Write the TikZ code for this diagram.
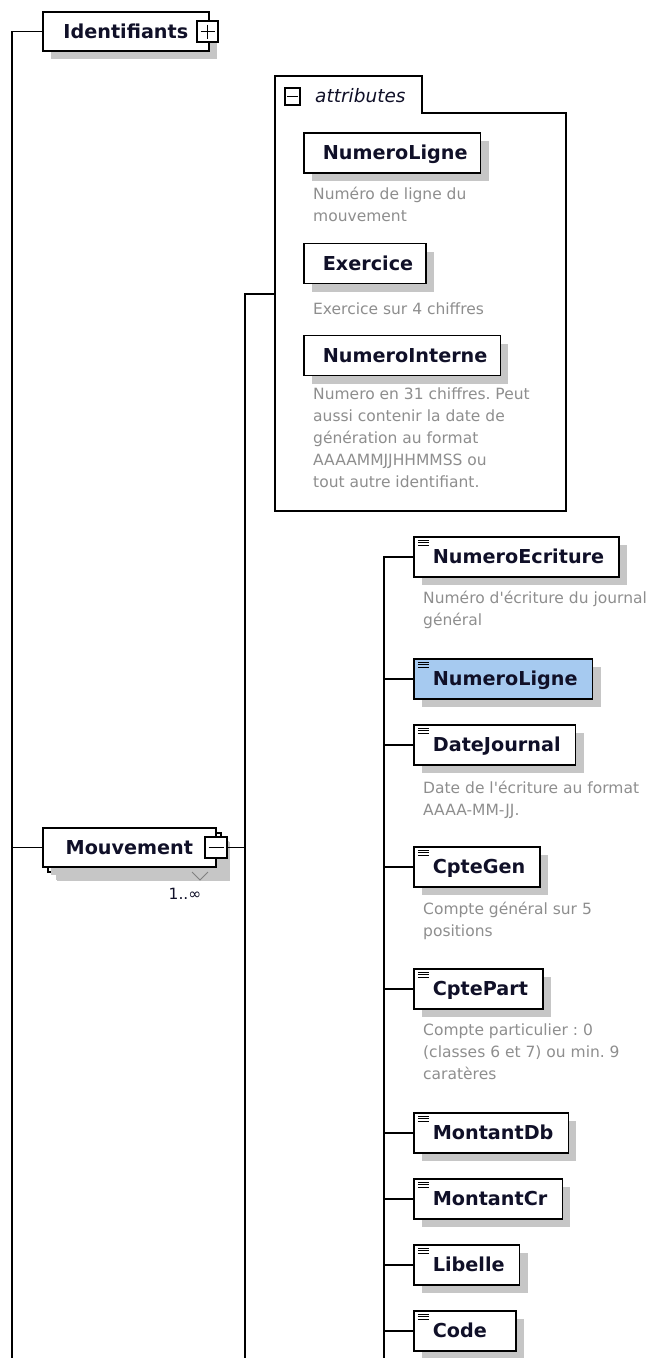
\documentclass[tikz,border=0pt]{standalone}
\usepackage{fontspec}
\setmainfont{DejaVu Sans}
\usetikzlibrary{positioning,shadows,calc}
\definecolor{lblue}{HTML}{A6CAF0}
\definecolor{descgray}{HTML}{8E8E8E}
\definecolor{shade}{HTML}{C6C6C6}
\definecolor{ink}{HTML}{101028}
\newcommand{\elname}[1]{\hspace*{19pt}#1\hspace*{15pt}}
\newcommand{\atname}[1]{\hspace*{19pt}#1\hspace*{13pt}}
\frenchspacing

\begin{document}
\begin{tikzpicture}[x = 1pt, y = -1pt,
    box/.style = {draw = black, line width = 1.7pt, fill = white, minimum height = 40pt, inner sep = 0pt,
        text height = 13.9pt, text depth = 0pt, text = ink, font = \fontsize{19.2}{22}\selectfont\bfseries,
        drop shadow = {shadow xshift = 8pt, shadow yshift = -8pt, fill = shade, opacity = 1}},
    elem/.style = {box, anchor = west, path picture = {
        \draw[line width = 0.9pt] ([xshift = 4pt, yshift = -3pt]path picture bounding box.north west) -- +(11pt, 0pt)
            ([xshift = 4pt, yshift = -5.5pt]path picture bounding box.north west) -- +(11pt, 0pt)
            ([xshift = 4pt, yshift = -8pt]path picture bounding box.north west) -- +(11pt, 0pt);}},
    desc/.style = {anchor = north west, inner sep = 0pt, align = left, text = descgray,
        font = \fontsize{15.5}{22}\selectfont, execute at begin node = \strut},
    pm/.style = {draw = black, line width = 1.5pt, fill = white, inner sep = 0pt},
    wire/.style = {line width = 1.7pt}]
    \useasboundingbox (0, 0) rectangle (661, 1358);

    % IDENTIFIANTS
    \node[box, anchor = west, minimum width = 166pt, minimum height = 39pt] (ident) at (42, 31.5) {Identifiants};
    \node[pm, minimum width = 21pt, minimum height = 21pt] (identPlus) at (207.5, 31.5) {};
    \draw[line width = 1.3pt] (identPlus.center) +(-7, 0) -- +(7, 0) +(0, -7) -- +(0, 7);

    % ATTRIBUTES GROUP
    \draw[line width = 1.6pt, fill = white] (275, 76) -- (422, 76) -- (422, 113) -- (566, 113) -- (566, 511) -- (275, 511) -- cycle;
    \coordinate (attrs) at (275, 294);
    \node[pm, minimum width = 15pt, minimum height = 17pt] (attrMinus) at (292.5, 96.5) {};
    \draw[line width = 1.3pt] (attrMinus.center) +(-5.5, 0) -- +(5.5, 0);
    \node[anchor = west, inner sep = 0pt, text = ink, font = \fontsize{18.5}{20}\selectfont\itshape] (attrTitle) at (315, 96) {attributes};

    \node[box, anchor = west] (aNumLigne) at (303, 153) {\atname{NumeroLigne}};
    \node[desc] (daNumLigne) at (313, 187) {Numéro de ligne du\\mouvement};
    \node[box, anchor = west] (aExercice) at (303, 263.5) {\atname{Exercice}};
    \node[desc] (daExercice) at (313, 299) {Exercice sur 4 chiffres};
    \node[box, anchor = west] (aNumInterne) at (303, 355.5) {\atname{NumeroInterne}};
    \node[desc] (daNumInterne) at (313, 388) {Numero en 31 chiffres. Peut\\aussi contenir la date de\\génération au format\\AAAAMMJJHHMMSS ou\\tout autre identifiant.};

    % MOUVEMENT
    \node[box, anchor = west, minimum width = 173pt, minimum height = 39pt, drop shadow = {shadow xshift = 9pt, shadow yshift = -9pt, fill = shade, opacity = 1}] (mouvBack) at (47, 852.5) {};
    \node[box, anchor = west, minimum width = 173pt, minimum height = 39pt, drop shadow = {opacity = 0}] (mouv) at (42, 847.5) {Mouvement};
    \node[pm, minimum width = 22pt, minimum height = 21pt] (mouvMinus) at (216, 847.5) {};
    \draw[line width = 1.3pt] (mouvMinus.center) +(-7.5, 0) -- +(7.5, 0);
    \draw[gray, line width = 1pt] (192, 872) -- (200, 880) -- (208, 872);
    \node[inner sep = 0pt, text = ink, font = \fontsize{15.5}{18}\selectfont] (mouvCard) at (185, 894) {1..∞};

    % SEQUENCE CHILDREN
    \node[elem] (eNumEcr) at (413, 557) {\elname{NumeroEcriture}};
    \node[desc] (deNumEcr) at (423, 591) {Numéro d\textquotesingle écriture du journal\\général};
    \node[elem, fill = lblue] (eNumLigne) at (413, 679) {\elname{NumeroLigne}};
    \node[elem] (eDate) at (413, 745) {\elname{DateJournal}};
    \node[desc] (deDate) at (423, 781) {Date de l\textquotesingle écriture au format\\AAAA-MM-JJ.};
    \node[elem] (eCpteGen) at (413, 867) {\elname{CpteGen}};
    \node[desc] (deCpteGen) at (423, 902) {Compte général sur 5\\positions};
    \node[elem] (eCptePart) at (413, 989) {\elname{CptePart}};
    \node[desc] (deCptePart) at (423, 1024) {Compte particulier : 0\\(classes 6 et 7) ou min. 9\\caratères};
    \node[elem] (eMontDb) at (413, 1133) {\elname{MontantDb}};
    \node[elem] (eMontCr) at (413, 1199) {\elname{MontantCr}};
    \node[elem] (eLibelle) at (413, 1265) {\elname{Libelle}};
    \node[elem] (eCode) at (413, 1331) {\elname{Code\hspace*{14pt}}};

    % CONNECTORS
    \coordinate (lbot) at (12, 1358);
    \coordinate (mbot) at (245, 1358);
    \coordinate (rbot) at (384, 1358);
    \draw[wire] (lbot) |- (ident.west);
    \draw[wire] (mouv.west) -- (mouv.west -| lbot);
    \draw[wire] (mbot) |- (attrs);
    \draw[wire] (mouvMinus.east) -- (mouvMinus.east -| mbot);
    \draw[wire] (rbot) |- (eNumEcr.west);
    \foreach \el in {eNumLigne, eDate, eCpteGen, eCptePart, eMontDb, eMontCr, eLibelle, eCode}
        \draw[wire] (\el.west) -- (\el.west -| rbot);
\end{tikzpicture}
\end{document}
